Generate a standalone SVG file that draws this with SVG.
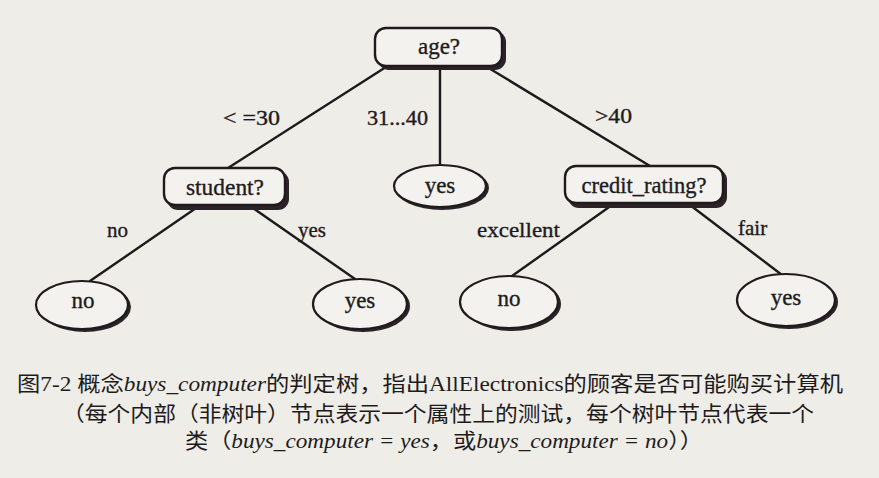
<svg xmlns="http://www.w3.org/2000/svg" width="879" height="478" viewBox="0 0 879 478">
<style>
.bg{fill:#eeede7}
.box{fill:#f3f2ee;stroke:#1f1b1d;stroke-width:2.4}
.shd{fill:#2c2329}
.leaf{fill:#f3f2ee;stroke:#1f1b1d;stroke-width:2.2}
.edge{stroke:#1c1a1b;stroke-width:2.4;fill:none;stroke-linecap:round}
.nt{font-family:"Liberation Serif","DejaVu Serif",serif;font-size:23px;fill:#1f1b1d;stroke:#1f1b1d;stroke-width:0.35;text-anchor:middle}
.lb{font-family:"Liberation Serif","DejaVu Serif",serif;font-size:21px;fill:#1f1b1d;stroke:#1f1b1d;stroke-width:0.35}
.cap{font-family:"Liberation Serif","Noto Sans CJK SC",serif;font-size:21px;fill:#1f1b1d}
.it{font-style:italic}
</style>
<rect class="bg" x="0" y="0" width="879" height="478"/>

<g id="connectors">
<line class="edge" x1="386" y1="67" x2="228" y2="168"/>
<line class="edge" x1="440" y1="67" x2="440" y2="164"/>
<line class="edge" x1="487" y1="67" x2="650" y2="166"/>
<line class="edge" x1="199" y1="206" x2="90" y2="281"/>
<line class="edge" x1="250" y1="206" x2="355" y2="279"/>
<line class="edge" x1="612" y1="205" x2="512" y2="276"/>
<line class="edge" x1="690" y1="205" x2="782" y2="275"/>
</g>

<g id="edge-labels">
<text class="lb" x="223" y="125" textLength="57" lengthAdjust="spacingAndGlyphs">&lt; =30</text>
<text class="lb" x="367" y="125" textLength="61" lengthAdjust="spacingAndGlyphs">31...40</text>
<text class="lb" x="595" y="123" textLength="37" lengthAdjust="spacingAndGlyphs">&gt;40</text>
<text class="lb" x="107" y="237">no</text>
<text class="lb" x="298" y="237">yes</text>
<text class="lb" x="477" y="237" textLength="83" lengthAdjust="spacingAndGlyphs">excellent</text>
<text class="lb" x="738" y="235">fair</text>
</g>

<g id="node-age">
<rect class="shd" x="378" y="31" width="128" height="39" rx="11"/>
<rect class="box" x="375" y="28" width="127" height="38" rx="11"/>
<text class="nt" x="439" y="54">age?</text>
</g>

<g id="node-student">
<rect class="shd" x="167" y="171" width="122" height="39" rx="11"/>
<rect class="box" x="164" y="168" width="121" height="37" rx="11"/>
<text class="nt" x="225" y="195" textLength="78" lengthAdjust="spacingAndGlyphs">student?</text>
</g>

<g id="node-yes-mid">
<ellipse class="shd" cx="442" cy="188" rx="47" ry="22"/>
<ellipse class="leaf" cx="440" cy="186" rx="46" ry="21"/>
<text class="nt" x="440" y="193">yes</text>
</g>

<g id="node-credit">
<rect class="shd" x="568" y="169" width="159" height="39" rx="11"/>
<rect class="box" x="565" y="166" width="158" height="37" rx="11"/>
<text class="nt" x="644" y="193" textLength="125" lengthAdjust="spacingAndGlyphs">credit_rating?</text>
</g>

<g id="leaf-no-1">
<ellipse class="shd" cx="85" cy="307" rx="46" ry="25"/>
<ellipse class="leaf" cx="82" cy="305" rx="46" ry="24"/>
<text class="nt" x="83" y="308">no</text>
</g>

<g id="leaf-yes-1">
<ellipse class="shd" cx="363" cy="306" rx="47" ry="26"/>
<ellipse class="leaf" cx="360" cy="304" rx="47" ry="25"/>
<text class="nt" x="360" y="308">yes</text>
</g>

<g id="leaf-no-2">
<ellipse class="shd" cx="512" cy="304" rx="49" ry="27"/>
<ellipse class="leaf" cx="509" cy="302" rx="49" ry="26"/>
<text class="nt" x="509" y="306">no</text>
</g>

<g id="leaf-yes-2">
<ellipse class="shd" cx="789" cy="302" rx="49" ry="27"/>
<ellipse class="leaf" cx="786" cy="300" rx="49" ry="26"/>
<text class="nt" x="786" y="305">yes</text>
</g>

<g id="caption">
<text class="cap" x="17" y="391" textLength="826" lengthAdjust="spacingAndGlyphs">图7-2  概念<tspan class="it">buys_computer</tspan>的判定树，指出AllElectronics的顾客是否可能购买计算机</text>
<text class="cap" x="62" y="421" textLength="752" lengthAdjust="spacingAndGlyphs">（每个内部（非树叶）节点表示一个属性上的测试，每个树叶节点代表一个</text>
<text class="cap" x="185" y="448" textLength="518" lengthAdjust="spacingAndGlyphs">类（<tspan class="it">buys_computer = yes</tspan>，或<tspan class="it">buys_computer = no</tspan>））</text>
</g>
</svg>
